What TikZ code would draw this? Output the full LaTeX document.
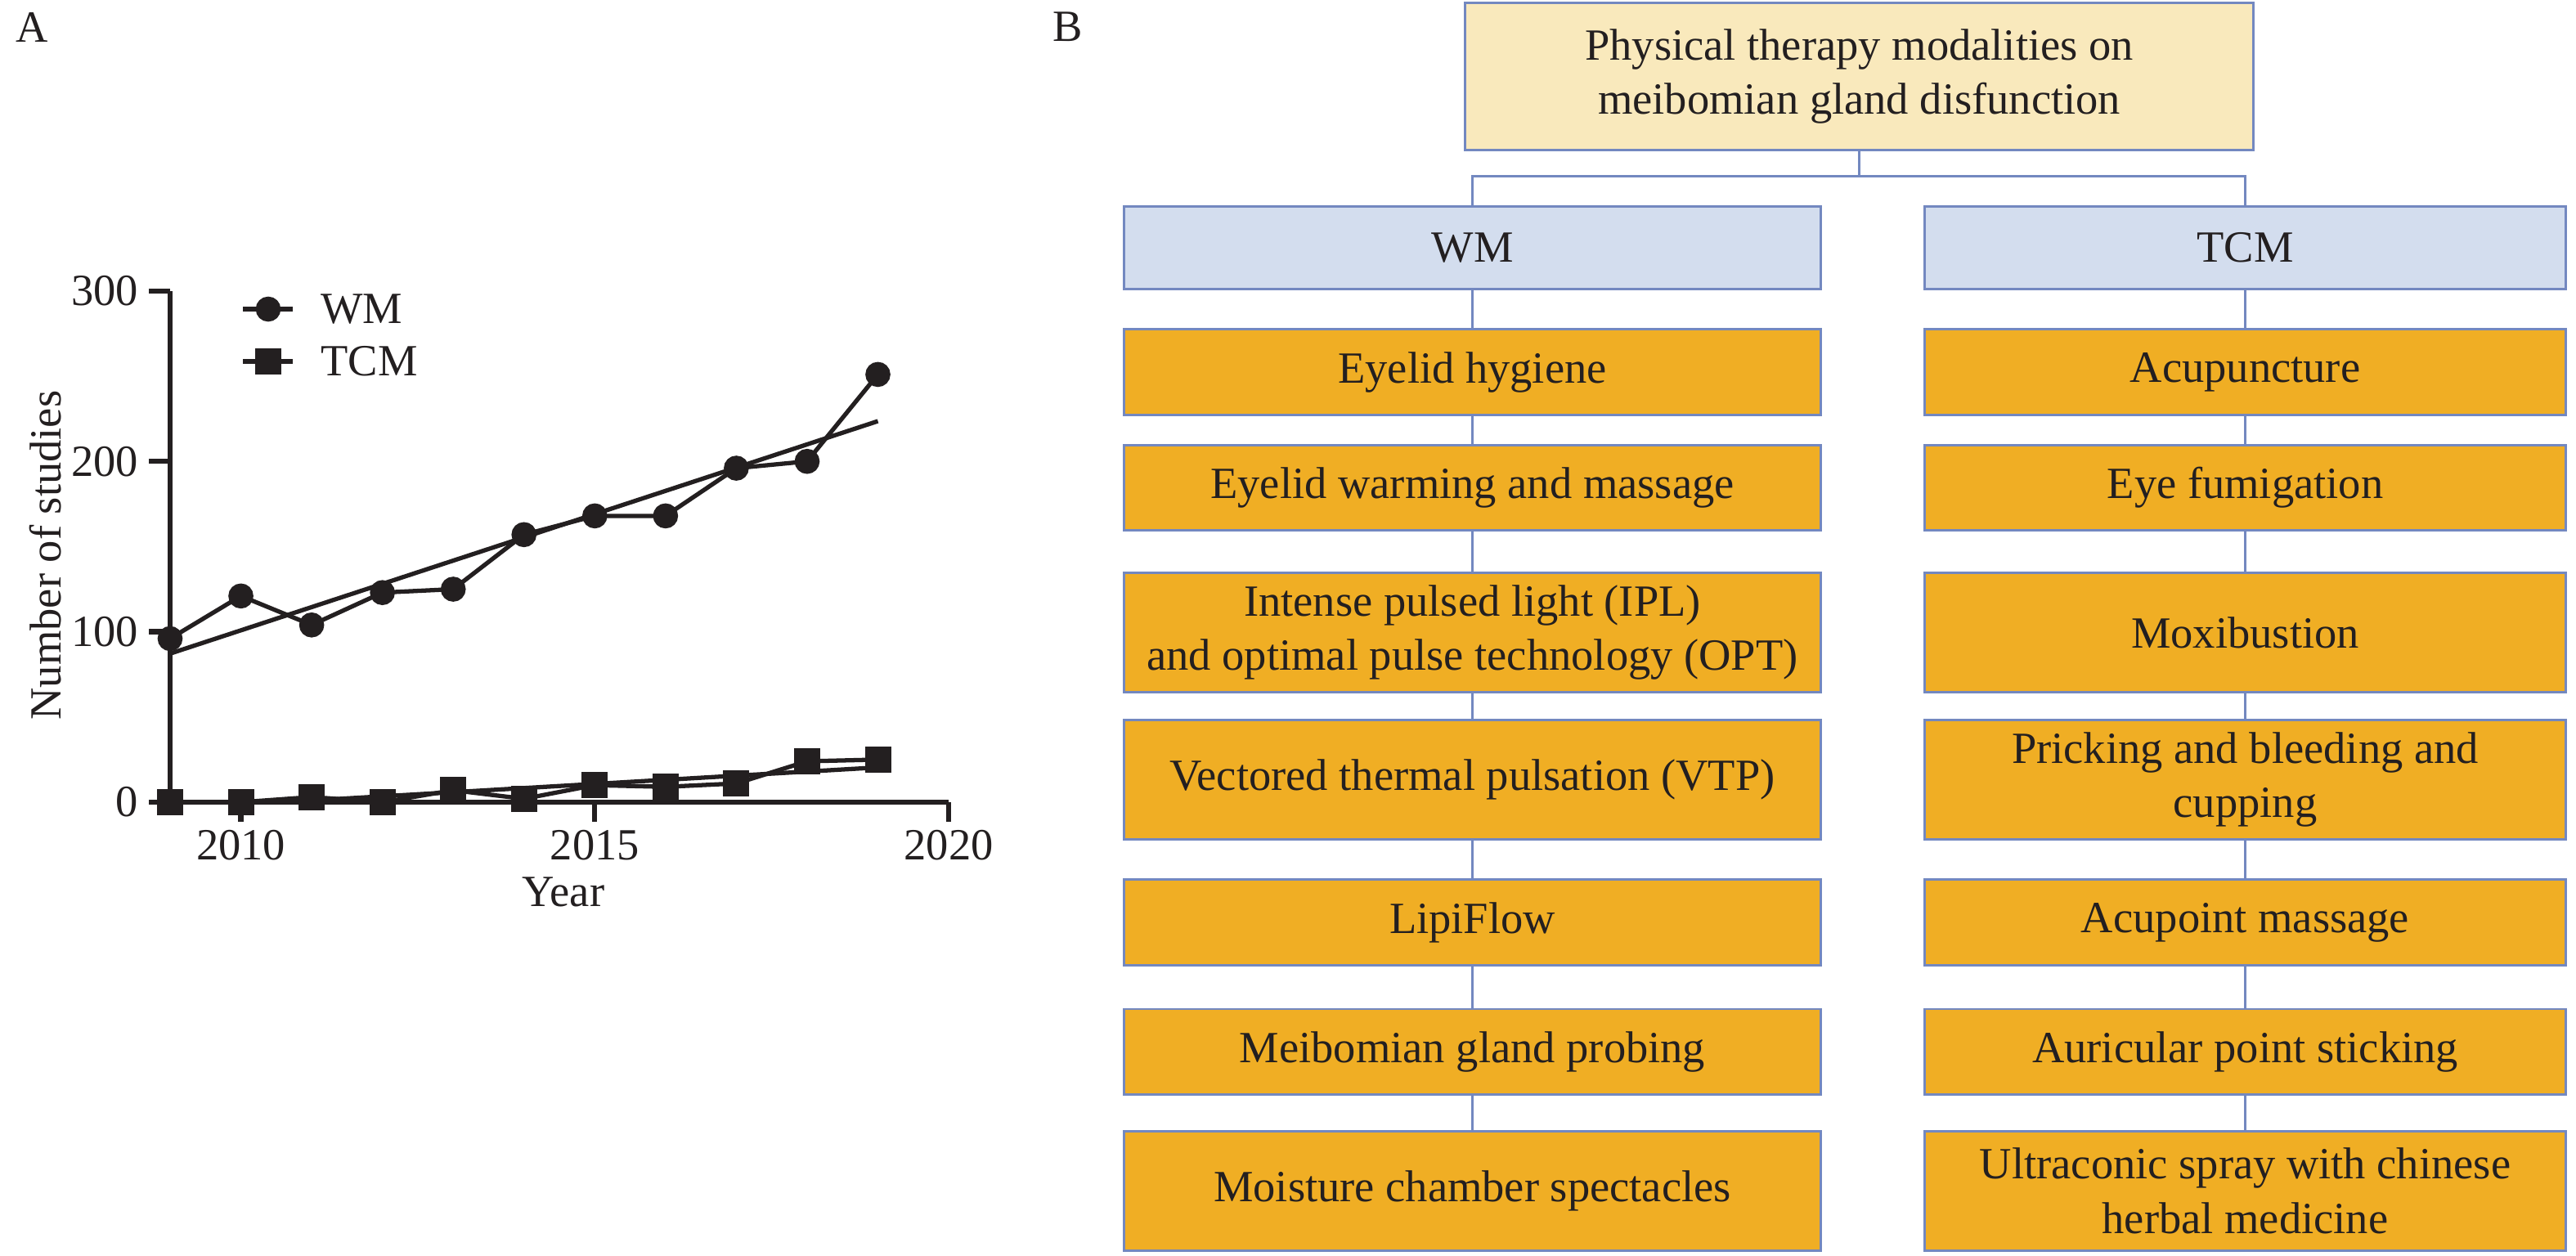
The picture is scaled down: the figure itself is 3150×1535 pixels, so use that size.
\documentclass[tikz,border=0pt]{standalone}
\usepackage{fontspec}
\setmainfont{Liberation Serif}
\usetikzlibrary{plotmarks}
\definecolor{boxline}{HTML}{7388C0}
\definecolor{topfill}{HTML}{F9E9BC}
\definecolor{headfill}{HTML}{D3DDEE}
\definecolor{itemfill}{HTML}{F0AE24}
\definecolor{ink}{HTML}{231F20}
\tikzset{
  box/.style={rectangle, draw=boxline, line width=0.85pt, text=ink, align=center, inner sep=0pt,
    font=\fontsize{15.5}{19}\selectfont},
  wmcol/.style={box, minimum width=8.51cm},
  tcmcol/.style={box, minimum width=7.83cm},
  short/.style={minimum height=1.04cm},
  tall/.style={minimum height=1.45cm},
  link/.style={draw=boxline, line width=0.7pt},
  axis/.style={draw=ink, line width=1.8pt},
  dataline/.style={draw=ink, line width=1.5pt},
  lbl/.style={text=ink, font=\fontsize{15.5}{19}\selectfont}
}
\begin{document}
\begin{tikzpicture}[x=0.01cm, y=-0.01cm]
\useasboundingbox (0,0) rectangle (3150,1535);
% panel letters
\node[lbl] (pA) at (39,33) {A};
\node[lbl] (pB) at (1306,33) {B};

% panel A: chart
\begin{scope}[shift={(208,981)}, x=0.865cm, y=0.02083cm]
  \draw[axis] (0,300) -- (0,0) -- (11,0);
  \foreach \v in {0,100,200,300}
    \draw[axis] (0,\v) -- ++(-0.26cm,0) node[lbl, left, inner sep=0.1cm] (ytick\v) {\v};
  \foreach \yr in {2010,2015,2020}
    \draw[axis] (\yr-2009,0) -- ++(0,-0.24cm) node[lbl, below, inner sep=0.07cm] (xtick\yr) {\yr};
  % WM
  \draw[dataline] (0,87.2) -- (10,223.6);
  \draw[dataline] plot[mark=*, mark size=3.6pt, mark options={fill=ink, draw=ink}] coordinates
    {(0,96) (1,121) (2,104) (3,123) (4,125) (5,157) (6,168) (7,168) (8,196) (9,200) (10,251)};
  % TCM
  \draw[dataline] (1.58,0) -- (10,20.4);
  \draw[dataline] plot[mark=square*, mark size=3.8pt, mark options={fill=ink, draw=ink}] coordinates
    {(0,0) (1,0) (2,3) (3,0) (4,7) (5,2) (6,10) (7,9) (8,11) (9,24) (10,25)};
\end{scope}
% legend
\draw[dataline] plot[mark=*, mark indices={2}, mark size=3.6pt, mark options={fill=ink, draw=ink}]
  coordinates {(297,378) (328,378) (358,378)};
\node[lbl, anchor=west] (legwm) at (380,378) {WM};
\draw[dataline] plot[mark=square*, mark indices={2}, mark size=3.8pt, mark options={fill=ink, draw=ink}]
  coordinates {(297,442) (328,442) (358,442)};
\node[lbl, anchor=west] (legtcm) at (380,442) {TCM};
\node[lbl] (ylabel) at (56,679) [rotate=90] {Number of studies};
\node[lbl] (xlabel) at (689,1091) {Year};

% panel B: tree
\node[box, fill=topfill, minimum width=9.63cm, minimum height=1.79cm] (top) at (2273.5,93.5)
  {Physical therapy modalities on\\meibomian gland disfunction};
\node[wmcol, fill=headfill, minimum height=1cm] (wm) at (1800.5,303) {WM};
\node[tcmcol, fill=headfill, minimum height=1cm] (tcm) at (2745.5,303) {TCM};

\node[wmcol, short, fill=itemfill] (wm1) at (1800.5,455) {Eyelid hygiene};
\node[wmcol, short, fill=itemfill] (wm2) at (1800.5,596.5) {Eyelid warming and massage};
\node[wmcol, tall, fill=itemfill] (wm3) at (1800.5,773.5) {Intense pulsed light (IPL)\\and optimal pulse technology (OPT)};
\node[wmcol, tall, fill=itemfill] (wm4) at (1800.5,953.5) {Vectored thermal pulsation (VTP)};
\node[wmcol, short, fill=itemfill] (wm5) at (1800.5,1128) {LipiFlow};
\node[wmcol, short, fill=itemfill] (wm6) at (1800.5,1286) {Meibomian gland probing};
\node[wmcol, tall, fill=itemfill] (wm7) at (1800.5,1456.5) {Moisture chamber spectacles};

\node[tcmcol, short, fill=itemfill] (tcm1) at (2745.5,455) {Acupuncture};
\node[tcmcol, short, fill=itemfill] (tcm2) at (2745.5,596.5) {Eye fumigation};
\node[tcmcol, tall, fill=itemfill] (tcm3) at (2745.5,773.5) {Moxibustion};
\node[tcmcol, tall, fill=itemfill] (tcm4) at (2745.5,953.5) {Pricking and bleeding and\\cupping};
\node[tcmcol, short, fill=itemfill] (tcm5) at (2745.5,1128) {Acupoint massage};
\node[tcmcol, short, fill=itemfill] (tcm6) at (2745.5,1286) {Auricular point sticking};
\node[tcmcol, tall, fill=itemfill] (tcm7) at (2745.5,1456.5) {Ultraconic spray with chinese\\herbal medicine};

% connectors
\draw[link] (top.south) -- ++(0,31) coordinate (bus);
\draw[link] (wm.north) |- (bus) -| (tcm.north);
\foreach \a/\b in {wm/wm1, wm1/wm2, wm2/wm3, wm3/wm4, wm4/wm5, wm5/wm6, wm6/wm7,
                   tcm/tcm1, tcm1/tcm2, tcm2/tcm3, tcm3/tcm4, tcm4/tcm5, tcm5/tcm6, tcm6/tcm7}
  \draw[link] (\a) -- (\b);
\end{tikzpicture}
\end{document}
